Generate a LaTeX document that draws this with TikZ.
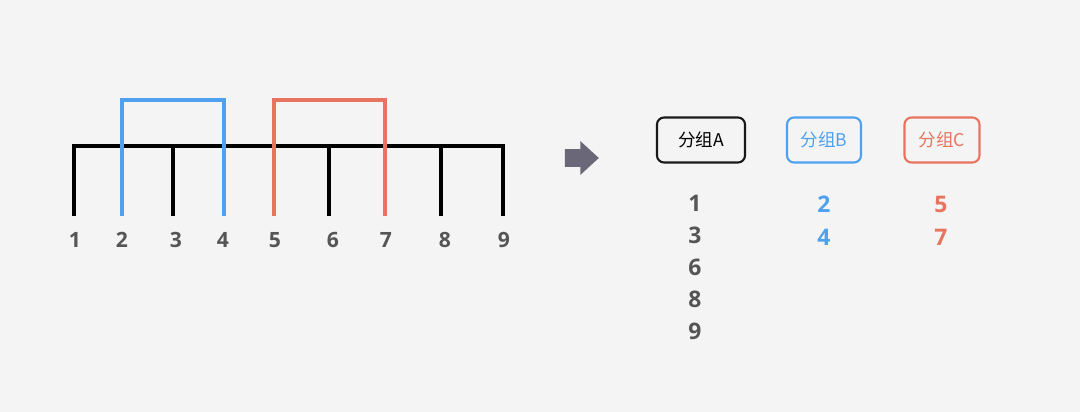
\documentclass[tikz,border=0pt]{standalone}
\usepackage{fontspec}
\setmainfont{Open Sans}
\newfontfamily\cjk{Noto Sans CJK SC}
\usepackage{tikz}
\usepackage{xcolor}
\usetikzlibrary{shapes, shapes.arrows, positioning}

\definecolor{bgc}{HTML}{F4F4F4}
\definecolor{bluec}{HTML}{4EA1EE}
\definecolor{redc}{HTML}{E8735F}
\definecolor{numc}{HTML}{555555}
\definecolor{arrowc}{HTML}{6A6878}

\tikzset{
    tree/.style={line width=2pt, line cap=rect},
    num/.style={font=\bfseries\fontsize{12}{14}\selectfont, text=numc, inner sep=0pt},
    col/.style={font=\bfseries\fontsize{13}{15}\selectfont, inner sep=0pt},
    grp/.style={draw, rounded corners=4pt, line width=1.2pt, minimum width=1.76cm,
        minimum height=0.9cm, inner sep=0pt, font=\cjk\fontsize{10}{12}\selectfont},
}

\begin{document}
\begin{tikzpicture}[x=0.02cm, y=-0.02cm]
        \fill[bgc] (0,0) rectangle (1080,412);
        \useasboundingbox (0,0) rectangle (1080,412);

        % leaves and labels
        \foreach \x/\lx [count=\i] in {74/75, 122/122, 173/176, 224/223, 274/275, 329/333, 385/386, 441/445, 503/504} {
            \coordinate (b\i) at (\x, 214);
            \coordinate (h\i) at (\x, 146);
            \coordinate (u\i) at (\x, 100);
            \node[num] (n\i) at (\lx, 240) {\i};
        }

        \draw[tree] (b1) -- (h1) -- (h9) -- (b9);
        \foreach \i in {3, 6, 8}
            \draw[tree] (h\i) -- (b\i);
        \draw[tree, bluec] (b2) -- (u2) -- (u4) -- (b4);
        \draw[tree, redc] (b5) -- (u5) -- (u7) -- (b7);

        \node[single arrow, fill=arrowc, inner sep=0.17cm, minimum height=0.68cm,
            single arrow head extend=0.16cm, single arrow tip angle=85] (arr) at (577, 158) {};

        % groups
        \node[grp, draw=black!90] (gA) at (701, 140) {分组A};
        \node[grp, draw=bluec, text=bluec, minimum width=1.48cm] (gB) at (824, 140) {分组B};
        \node[grp, draw=redc, text=redc, minimum width=1.5cm] (gC) at (942, 140) {分组C};

        \foreach \v [count=\k] in {1, 3, 6, 8, 9}
            \node[col, text=numc] (a\k) at (695, 171 + 32*\k) {\v};
        \foreach \v [count=\k] in {2, 4}
            \node[col, text=bluec] (bb\k) at (824, 171 + 33*\k) {\v};
        \foreach \v [count=\k] in {5, 7}
            \node[col, text=redc] (c\k) at (941, 171 + 33*\k) {\v};
    \end{tikzpicture}
\end{document}
